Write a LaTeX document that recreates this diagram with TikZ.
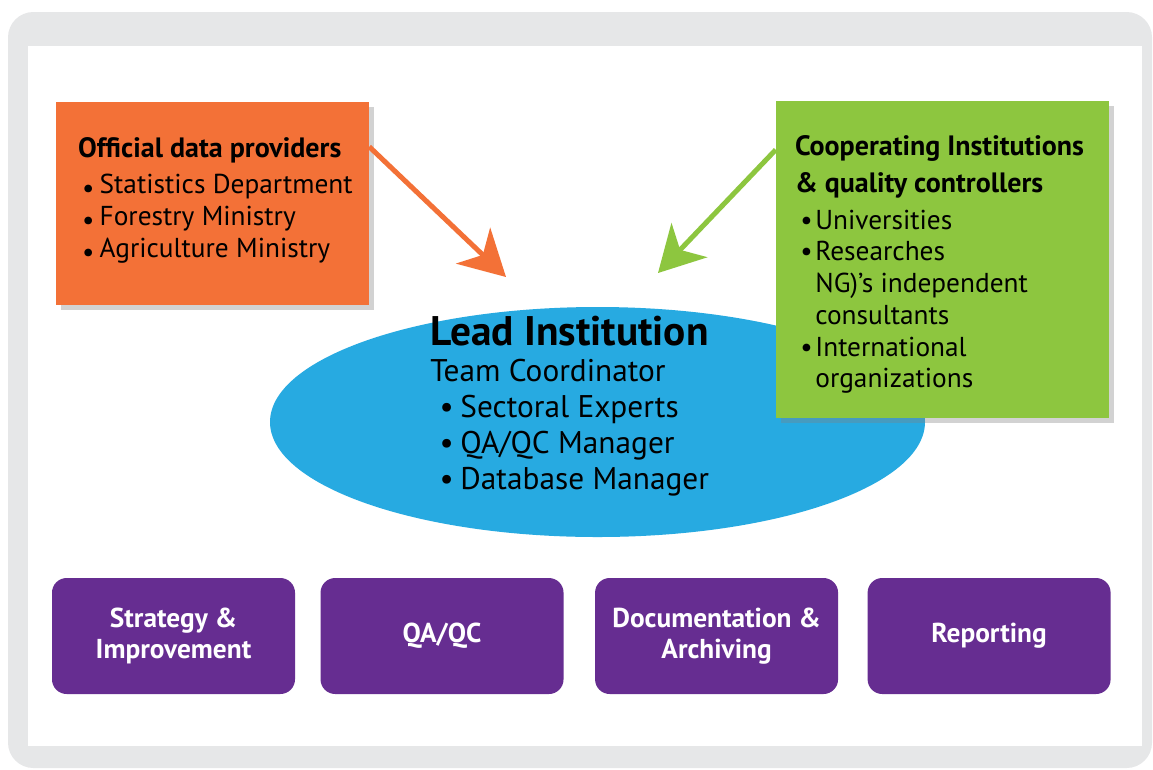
\documentclass[tikz,border=0pt]{standalone}
\usepackage{fontspec}
\setmainfont{PT Sans}
\usetikzlibrary{shapes.geometric}
\usetikzlibrary{arrows.meta}
\usetikzlibrary{positioning}
\usetikzlibrary{shadows}
\usepackage{xcolor}

\definecolor{framegray}{HTML}{E6E7E8}
\definecolor{provorange}{HTML}{F37137}
\definecolor{coopgreen}{HTML}{8DC63F}
\definecolor{leadblue}{HTML}{27AAE1}
\definecolor{taskpurple}{HTML}{662D91}

\newcommand{\lowbul}{\raisebox{-0.3ex}{\textbullet}}
\newcommand{\bul}{\textbullet\hspace{2pt}}
\newcommand{\nobul}{\hphantom{\textbullet\hspace{2pt}}}
\newcommand{\headfont}{\bfseries\fontsize{21pt}{23.8pt}\selectfont}

\begin{document}
\begin{tikzpicture}[x=0.75pt,y=-0.75pt,
  infobox/.style={rectangle,inner sep=0pt,drop shadow={shadow xshift=4pt,shadow yshift=-4pt,opacity=.35}},
  listtext/.style={inner sep=0pt,align=left,font=\fontsize{20.5pt}{23.8pt}\selectfont},
  taskbox/.style={rectangle,rounded corners=11pt,fill=taskpurple,text=white,align=center,
    minimum width=182.25pt,minimum height=87pt,font=\bfseries\fontsize{20.5pt}{23pt}\selectfont},
  bigarrow/.style={line width=3.75pt,-{Stealth[length=34pt,width=37pt,inset=10pt]}}]
\useasboundingbox (0,0) rectangle (1153,769);
\fill [framegray,rounded corners=19pt] (8,12) rectangle (1152,768);
\fill [white] (28,46) rectangle (1142,746);

\node [ellipse,fill=leadblue,inner sep=0pt,minimum width=491.25pt,minimum height=172.5pt] (lead) at (597.5,422) {};
\node [listtext,anchor=north west,font=\fontsize{23.5pt}{27pt}\selectfont] (leadtext) at (430,316)
  {{\bfseries\fontsize{31pt}{31pt}\selectfont Lead Institution}\\[0pt]
   Team Coordinator\\
   \hspace{7pt}\textbullet\hspace{5pt}Sectoral Experts\\
   \hspace{7pt}\textbullet\hspace{5pt}QA/QC Manager\\
   \hspace{7pt}\textbullet\hspace{5pt}Database Manager};

\node [infobox,fill=provorange,minimum width=234.75pt,minimum height=152.25pt] (prov) at (212.5,203.5) {};
\node [listtext,below right=26.25pt and 16.5pt,at=(prov.north west)] (provtext)
  {{\headfont Official data providers}\\[3.7pt]
   \hspace{3pt}\lowbul\hspace{4pt}Statistics Department\\
   \hspace{3pt}\lowbul\hspace{4pt}Forestry Ministry\\
   \hspace{3pt}\lowbul\hspace{4pt}Agriculture Ministry};

\node [infobox,fill=coopgreen,minimum width=249.75pt,minimum height=237.75pt] (coop) at (942.5,259.5) {};
\node [listtext,below right=25.5pt and 14.25pt,at=(coop.north west)] (cooptext)
  {{\headfont Cooperating Institutions}\\[4pt]
   {\headfont \& quality controllers}\\[4pt]
   \hspace{4pt}\bul Universities\\
   \hspace{4pt}\bul Researches\\
   \hspace{4pt}\nobul NG)’s independent\\
   \hspace{4pt}\nobul consultants\\
   \hspace{4pt}\bul International\\
   \hspace{4pt}\nobul organizations};

\coordinate (provtip) at (506,277);
\coordinate (cooptip) at (658,273);
\draw [bigarrow,provorange] ([yshift=-33.75pt]prov.north east) -- (provtip);
\draw [bigarrow,coopgreen] ([yshift=-36.75pt]coop.north west) -- (cooptip);

\node [taskbox] (strat) at (173.5,636) {Strategy \&\\Improvement};
\node [taskbox,right=18.75pt,at=(strat.east)] (qaqc) {QA/QC};
\node [taskbox,right=23.25pt,at=(qaqc.east)] (docu) {Documentation \&\\Archiving};
\node [taskbox,right=21.75pt,at=(docu.east)] (report) {Reporting};
\end{tikzpicture}
\end{document}
